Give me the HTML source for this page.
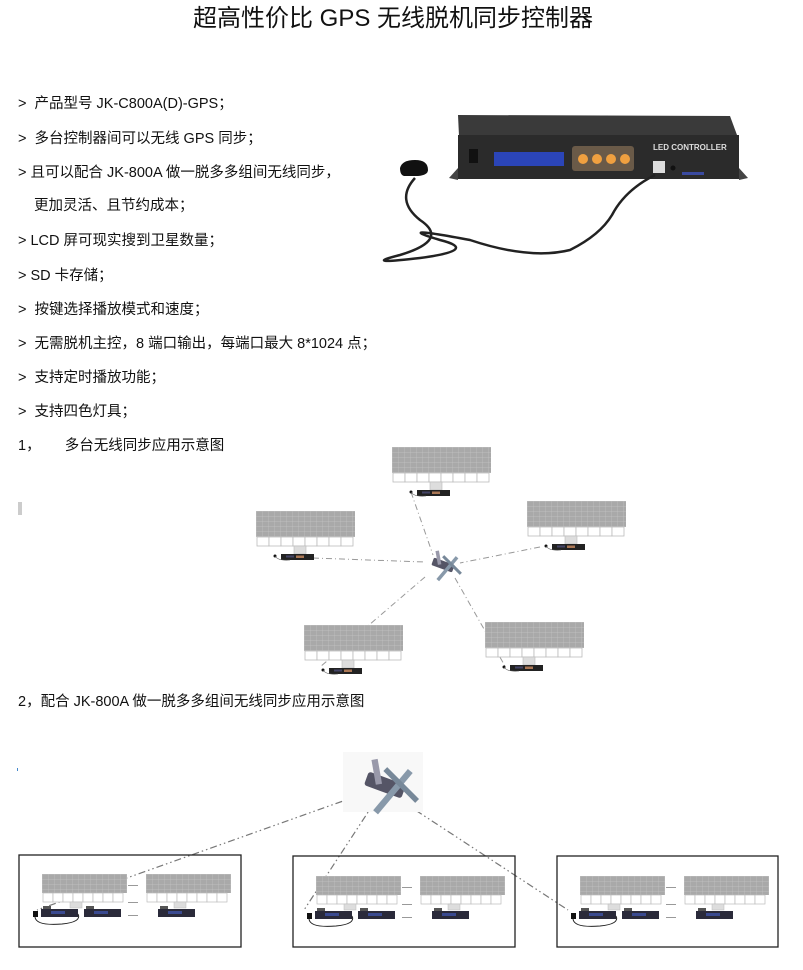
<!DOCTYPE html>
<html><head><meta charset="utf-8"><style>
body{margin:0;background:#fff;}
#w{position:relative;width:803px;height:970px;overflow:hidden;font-family:"Liberation Sans","Noto Sans CJK SC",sans-serif;color:#111;}
.t{position:absolute;white-space:nowrap;font-size:14.5px;line-height:16px;}
</style></head><body><div id="w">
<div class="t" style="left:193px;top:6px;font-size:24px;line-height:26px;">超高性价比 GPS 无线脱机同步控制器</div>
<div class="t" style="left:18px;top:96px;">&gt;&nbsp; 产品型号 JK-C800A(D)-GPS；</div>
<div class="t" style="left:18px;top:131px;">&gt;&nbsp; 多台控制器间可以无线 GPS 同步；</div>
<div class="t" style="left:18px;top:165px;">&gt; 且可以配合 JK-800A 做一脱多多组间无线同步，</div>
<div class="t" style="left:34px;top:198px;">更加灵活、且节约成本；</div>
<div class="t" style="left:18px;top:233px;">&gt; LCD 屏可现实搜到卫星数量；</div>
<div class="t" style="left:18px;top:268px;">&gt; SD 卡存储；</div>
<div class="t" style="left:18px;top:302px;">&gt;&nbsp; 按键选择播放模式和速度；</div>
<div class="t" style="left:18px;top:336px;">&gt;&nbsp; 无需脱机主控，8 端口输出，每端口最大 8*1024 点；</div>
<div class="t" style="left:18px;top:370px;">&gt;&nbsp; 支持定时播放功能；</div>
<div class="t" style="left:18px;top:404px;">&gt;&nbsp; 支持四色灯具；</div>
<div class="t" style="left:18px;top:438px;">1，&nbsp;&nbsp;&nbsp;&nbsp;&nbsp; 多台无线同步应用示意图</div>
<div class="t" style="left:18px;top:694px;">2，配合 JK-800A 做一脱多多组间无线同步应用示意图</div>
<svg width="803" height="970" style="position:absolute;left:0;top:0">
<defs>
<pattern id="g" width="6" height="5" patternUnits="userSpaceOnUse"><rect width="6" height="5" fill="#a9a9a9"/><path d="M0 0H6M0 0V5" stroke="#c4c4c4" stroke-width="0.7"/></pattern>
<g id="P">
<rect x="0" y="0" width="99" height="26" fill="url(#g)"/>
<g fill="#fff" stroke="#bbb" stroke-width="0.8"><rect x="1" y="26" width="12" height="9"/><rect x="13" y="26" width="12" height="9"/><rect x="25" y="26" width="12" height="9"/><rect x="37" y="26" width="12" height="9"/><rect x="49" y="26" width="12" height="9"/><rect x="61" y="26" width="12" height="9"/><rect x="73" y="26" width="12" height="9"/><rect x="85" y="26" width="12" height="9"/></g>
<rect x="38" y="35" width="12" height="8" fill="#ddd" stroke="#bbb" stroke-width="0.6"/>
<rect x="25" y="43" width="33" height="6" fill="#222"/><rect x="30" y="44.5" width="8" height="2" fill="#446"/><rect x="40" y="44.5" width="8" height="2.5" fill="#a75"/>
<circle cx="19" cy="45" r="1.5" fill="#111"/><path d="M19 45 Q22 50 34 49" stroke="#555" fill="none" stroke-width="0.6"/>
</g>
<g id="Q">
<rect x="0" y="0" width="85" height="19" fill="url(#g)"/>
<g fill="#fff" stroke="#bbb" stroke-width="0.7"><rect x="1" y="19" width="10" height="9"/><rect x="11" y="19" width="10" height="9"/><rect x="21" y="19" width="10" height="9"/><rect x="31" y="19" width="10" height="9"/><rect x="41" y="19" width="10" height="9"/><rect x="51" y="19" width="10" height="9"/><rect x="61" y="19" width="10" height="9"/><rect x="71" y="19" width="10" height="9"/></g>
<rect x="28" y="28" width="12" height="6" fill="#ddd" stroke="#bbb" stroke-width="0.5"/>
</g>
<g id="C"><rect x="0" y="0" width="37" height="8" fill="#2a2a3a"/><rect x="10" y="2" width="14" height="3" fill="#3a4a90"/><rect x="2" y="-3" width="8" height="3" fill="#555"/></g>
<g id="S">
<rect x="-22" y="-8" width="44" height="16" rx="3" fill="#556" transform="rotate(20)"/>
<rect x="8" y="-30" width="7" height="60" fill="#8899aa" transform="rotate(40)"/>
<rect x="-10" y="-30" width="7" height="28" fill="#99a" transform="rotate(-10)"/>
<rect x="15" y="-25" width="6" height="50" fill="#789" transform="rotate(-45 18 0)"/>
</g>
<g id="B"><use href="#Q" x="0" y="0"/><use href="#Q" x="104" y="0"/>
<use href="#C" x="-1" y="35"/><use href="#C" x="42" y="35"/><use href="#C" x="116" y="35"/>
<rect x="-9" y="37" width="5" height="6" fill="#111"/><path d="M-7 43 Q-6 52 20 50 Q40 48 36 40" stroke="#222" fill="none" stroke-width="1"/>
<g fill="#999"><rect x="86" y="11" width="10" height="1"/><rect x="86" y="28" width="10" height="1"/><rect x="86" y="41" width="10" height="1"/></g>
</g>
</defs>
<path d="M458 115 L730 116 L737 135 L459 136 Z" fill="#3a3a3a"/>
<rect x="458" y="135" width="281" height="44" fill="#2b2b2b"/>
<path d="M449 178 L458 168 L458 180 Z M739 168 L748 178 L739 180Z" fill="#444"/>
<rect x="469" y="149" width="9" height="14" fill="#111"/>
<rect x="494" y="152" width="70" height="14" fill="#2b45b8"/>
<rect x="572" y="146" width="62" height="25" rx="3" fill="#6a5a48"/>
<g fill="#f0a040"><circle cx="583" cy="159" r="5"/><circle cx="597" cy="159" r="5"/><circle cx="611" cy="159" r="5"/><circle cx="625" cy="159" r="5"/></g>
<text x="653" y="150" font-size="8" font-weight="bold" fill="#ddd" font-family="Liberation Sans">LED CONTROLLER</text>
<rect x="653" y="161" width="12" height="12" fill="#ddd"/><circle cx="673" cy="168" r="2.5" fill="#111"/>
<rect x="682" y="172" width="22" height="3" fill="#3a4aa0"/>
<path d="M400 168 Q402 160 415 160 Q428 160 428 170 Q428 175 418 176 L404 176 Q400 175 400 168Z" fill="#111"/>
<path d="M415 178 Q395 200 420 220 Q450 240 400 255 Q360 265 420 258 Q480 250 440 240 Q390 225 470 240 Q530 260 570 250 Q600 235 612 215 Q625 190 655 175" stroke="#222" stroke-width="2.5" fill="none"/>
<rect x="18" y="502" width="4" height="13" fill="#ccc"/>
<g stroke="#999" stroke-width="1" stroke-dasharray="6 3 1 3" fill="none">
<line x1="411" y1="492" x2="433" y2="555"/><line x1="313" y1="558" x2="425" y2="562"/><line x1="540" y1="547" x2="460" y2="563"/><line x1="425" y1="577" x2="320" y2="667"/><line x1="455" y1="578" x2="505" y2="666"/>
</g>
<use href="#P" x="392" y="447"/>
<use href="#P" x="256" y="511"/>
<use href="#P" x="527" y="501"/>
<use href="#P" x="304" y="625"/>
<use href="#P" x="485" y="622"/>
<use href="#S" transform="translate(443 565) scale(0.5)"/>
<rect x="17" y="768" width="1" height="3" fill="#48c"/>
<g stroke="#777" stroke-width="1.2" stroke-dasharray="7 3 1.5 3 1.5 3" fill="none">
<line x1="360" y1="795" x2="37" y2="910"/><line x1="376" y1="800" x2="304" y2="910"/><line x1="400" y1="800" x2="568" y2="910"/>
</g>
<rect x="343" y="752" width="80" height="60" fill="#f8f8f8"/>
<use href="#S" transform="translate(385 785) scale(0.9)"/>
<g fill="none" stroke="#222" stroke-width="1.3"><rect x="19" y="855" width="222" height="92"/><rect x="293" y="856" width="222" height="91"/><rect x="557" y="856" width="221" height="91"/></g>
<use href="#B" x="42" y="874"/>
<use href="#B" x="316" y="876"/>
<use href="#B" x="580" y="876"/>
</svg>
</div></body></html>
